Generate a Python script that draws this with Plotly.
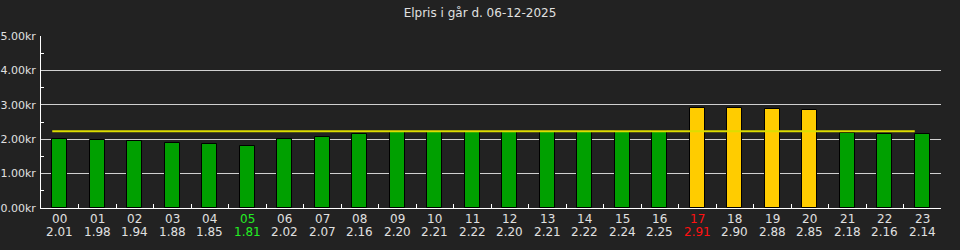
import plotly.graph_objects as go

hours = ["00","01","02","03","04","05","06","07","08","09","10","11",
         "12","13","14","15","16","17","18","19","20","21","22","23"]
prices = [2.01,1.98,1.94,1.88,1.85,1.81,2.02,2.07,2.16,2.20,2.21,2.22,
          2.20,2.21,2.22,2.24,2.25,2.91,2.90,2.88,2.85,2.18,2.16,2.14]
title_text = "Elpris i går d. 06-12-2025"

avg = sum(prices) / len(prices)
pmin = min(prices)
pmax = max(prices)
top4 = sorted(prices, reverse=True)[:4]

bar_colors = ["#ffcc00" if p in top4 else "#00a000" for p in prices]
label_colors = ["#22ee22" if p == pmin else "#ff1111" if p == pmax else "#e0e0e0"
                for p in prices]

fig = go.Figure()
fig.add_trace(go.Bar(
    x=hours, y=prices, width=0.4,
    marker=dict(color=bar_colors, line=dict(color="#000000", width=1)),
))

fig.add_shape(type="line", xref="x", yref="y",
              x0=-0.2, x1=len(hours) - 1.2, y0=avg, y1=avg,
              line=dict(color="#dddd00", width=2))

for h, p, c in zip(hours, prices, label_colors):
    fig.add_annotation(x=h, xref="x", y=0, yref="paper", yanchor="middle",
                       yshift=-11, text=h, showarrow=False,
                       font=dict(size=12, color=c))
    fig.add_annotation(x=h, xref="x", y=0, yref="paper", yanchor="middle",
                       yshift=-24, text=f"{p:.2f}", showarrow=False,
                       font=dict(size=12, color=c))

fig.update_layout(
    width=960, height=250,
    margin=dict(l=41, r=19, t=36, b=42),
    paper_bgcolor="#222222", plot_bgcolor="#222222",
    font=dict(family="DejaVu Sans", color="#e0e0e0", size=12),
    title=dict(text=title_text, x=0.5, xanchor="center", y=0.95, yanchor="middle",
               font=dict(size=12, color="#e0e0e0")),
    showlegend=False,
    bargap=0,
)
fig.update_xaxes(
    type="category", showticklabels=False, automargin=False,
    tickson="boundaries", ticks="inside", ticklen=4, tickcolor="#ffffff", tickwidth=1,
    showline=True, linecolor="#ffffff", linewidth=1, showgrid=False,
    range=[-0.5, 23.5],
)
fig.update_yaxes(
    range=[0, 5], dtick=1, tickformat=".2f", ticksuffix="kr", automargin=False,
    showgrid=True, gridcolor="#d0d0d0", gridwidth=1,
    showline=True, linecolor="#ffffff", linewidth=1,
    ticks="", zeroline=False, ticklabelstandoff=2,
    tickfont=dict(size=11, color="#e0e0e0"),
    minor=dict(dtick=1, tick0=0.5, ticks="inside", ticklen=3, tickcolor="#ffffff", showgrid=False),
)

fig.write_html("out.html")
